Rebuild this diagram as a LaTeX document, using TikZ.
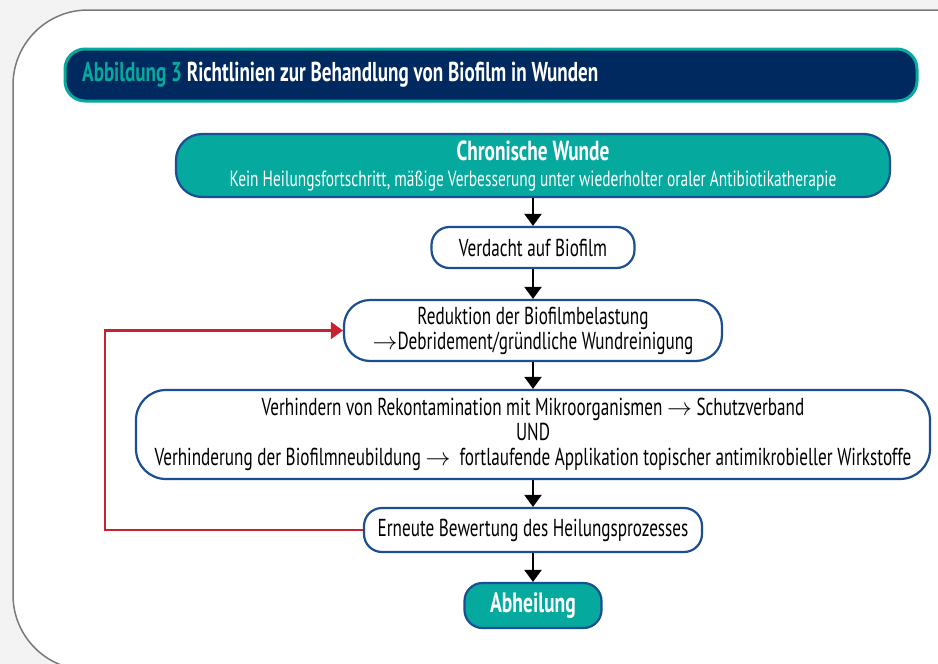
\documentclass[tikz,border=0pt]{standalone}
\usepackage{fontspec}
\setmainfont{PT Sans}[FakeStretch=0.70]
\usetikzlibrary{arrows.meta}

\definecolor{pagegray}{HTML}{F3F3F3}
\definecolor{framegray}{HTML}{7A7A7A}
\definecolor{navy}{HTML}{002A5F}
\definecolor{tealfill}{HTML}{05A99E}
\definecolor{boxblue}{HTML}{1C4E93}
\definecolor{loopred}{HTML}{C62232}

\tikzset{
  flowbox/.style={draw=boxblue, line width=2.2pt, fill=white, rounded corners=18pt,
    inner sep=0pt, align=center, font=\fontsize{24.5}{25}\selectfont},
  tealbox/.style={flowbox, fill=tealfill, text=white},
  flowarrow/.style={line width=2.2pt, -{Triangle[width=17pt,length=12pt]}},
  loopline/.style={draw=loopred, line width=2.2pt, -{Triangle[width=17pt,length=12pt]}}
}

\begin{document}
\begin{tikzpicture}[x=1pt, y=-1pt]

    % Page area with the light grey surround
    \useasboundingbox (0,0) rectangle (938,664);
    \fill[pagegray] (0,0) rectangle (938,664);

    % Outer frame, open to the right and to the bottom
    \begin{scope}
        \clip (0,0) rectangle (938,664);
        \draw[framegray, line width=1.5pt, fill=white, rounded corners=75pt]
            (960,10) -- (13,10) -- (13,670) -- (960,670);
    \end{scope}

    % Title bar
    \node[draw=tealfill, fill=navy, line width=3pt, rounded corners=20pt,
          minimum width=852pt, minimum height=52pt, inner sep=0pt] (title) at (491,75) {};
    \node[anchor=west, text=white, inner sep=0pt, font=\fontsize{27.3}{28}\selectfont\bfseries] (caption) at (82,75)
        {\textcolor{tealfill}{Abbildung 3} Richtlinien zur Behandlung von Biofilm in Wunden};

    % Flow boxes, top to bottom
    \node[tealbox, minimum width=714pt, minimum height=63pt, rounded corners=26pt] (chronic) at (533,165.5)
        {{\fontsize{27.6}{28}\selectfont\bfseries Chronische Wunde}\\[1pt]
         {\fontsize{22}{25}\selectfont Kein Heilungsfortschritt, mäßige Verbesserung unter wiederholter oraler Antibiotikatherapie}};
    \node[flowbox, minimum width=203pt, minimum height=41pt] (verdacht) at (533,247.5)
        {Verdacht auf Biofilm};
    \node[flowbox, minimum width=378pt, minimum height=61pt, rounded corners=26pt] (reduktion) at (533,330.5)
        {Reduktion der Biofilmbelastung\\$\rightarrow$Debridement/gründliche Wundreinigung};
    \node[flowbox, minimum width=794pt, minimum height=89pt, rounded corners=30pt] (verhindern) at (533,434.5)
        {Verhindern von Rekontamination mit Mikroorganismen $\rightarrow$ Schutzverband\\UND\\
         Verhinderung der Biofilmneubildung $\rightarrow$\ \ fortlaufende Applikation topischer antimikrobieller Wirkstoffe};
    \node[flowbox, minimum width=338pt, minimum height=44pt] (bewertung) at (533,530)
        {Erneute Bewertung des Heilungsprozesses};
    \node[tealbox, minimum width=137pt, minimum height=45pt, font=\fontsize{28}{28}\selectfont\bfseries] (abheilung) at (533,605.5)
        {Abheilung};

    % Downward arrows between the boxes
    \draw[flowarrow] (chronic) -- (verdacht);
    \draw[flowarrow] (verdacht) -- (reduktion);
    \draw[flowarrow] (reduktion) -- (verhindern);
    \draw[flowarrow] (verhindern) -- (bewertung);
    \draw[flowarrow] (bewertung) -- (abheilung);

    % Red feedback loop back to the reduction step
    \coordinate (loopcorner) at (105,0);
    \draw[loopline] (bewertung.west) -- (bewertung.west -| loopcorner) |- (reduktion.west);

\end{tikzpicture}
\end{document}
